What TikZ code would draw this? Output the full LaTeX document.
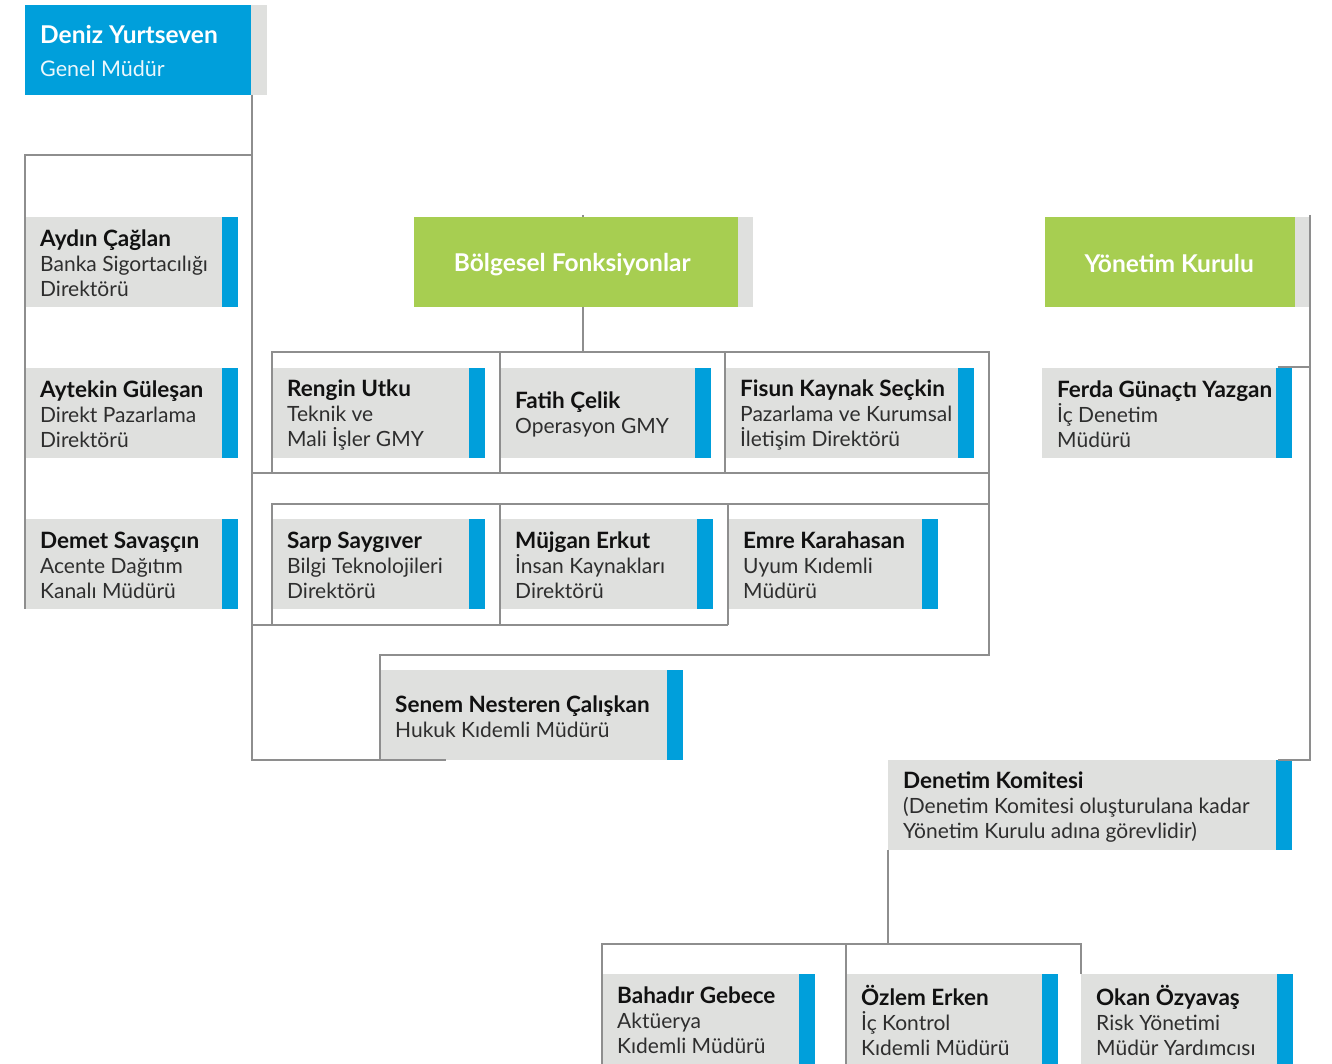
\documentclass[tikz,border=0pt]{standalone}
\usepackage{fontspec}
\setmainfont{Lato}
\definecolor{cblue}{HTML}{009FDB}
\definecolor{cgreen}{HTML}{A7CE51}
\definecolor{cgrey}{HTML}{DFE0DE}
\definecolor{cline}{HTML}{8E8E8E}
\definecolor{cname}{HTML}{111111}
\definecolor{ctitle}{HTML}{2E2E2E}
\tikzset{
  gbox/.style={anchor=north west, fill=cgrey, minimum height=90pt, inner sep=0pt, draw=none},
  ptext/.style={anchor=west, align=left, inner sep=0pt, text=ctitle, font=\fontsize{21}{25}\selectfont},
  conn/.style={draw=cline, line width=1.2pt},
}
\newcommand\pbox[6]{%
  \node[gbox, minimum width=#4] (#1) at (#2,#3) {};
  \fill[cblue] (#1.north east) rectangle ++(15.5,90);
  \node[ptext] (#1-t) at ([xshift=15,yshift=-1.5]#1.west) {\textcolor{cname}{\fontsize{22.5}{25}\selectfont\bfseries #5}\\#6};
}
\begin{document}
\begin{tikzpicture}[x=1pt,y=-1pt]
\useasboundingbox (0,0) rectangle (1332,1064);
% top
\node[anchor=north west, fill=cblue, minimum width=226pt, minimum height=90pt, inner sep=0pt] (deniz) at (25,5) {};
\fill[cgrey] (deniz.north east) rectangle ++(16,90);
\node[anchor=west, align=left, inner sep=0pt, text=white, font=\fontsize{21.5}{33}\selectfont] (deniz-t) at ([xshift=15,yshift=-1]deniz.west) {{\fontsize{24.5}{33}\selectfont\bfseries Deniz Yurtseven}\\\textcolor{white!92!cblue}{Genel Müdür}};
% green boxes
\node[anchor=north west, fill=cgreen, minimum width=324pt, minimum height=90pt, inner sep=0pt] (bolg) at (414,217) {};
\fill[cgrey] (bolg.north east) rectangle ++(15,90);
\node[text=white, font=\fontsize{24.5}{28}\selectfont\bfseries, inner sep=0pt] (bolg-t) at ([xshift=-4,yshift=-2]bolg.center) {Bölgesel Fonksiyonlar};
\node[anchor=north west, fill=cgreen, minimum width=250pt, minimum height=90pt, inner sep=0pt] (yk) at (1045,217) {};
\fill[cgrey] (yk.north east) rectangle ++(15,90);
\node[text=white, font=\fontsize{24.5}{28}\selectfont\bfseries, inner sep=0pt] (yk-t) at ([xshift=-1,yshift=-1]yk.center) {Yönetim Kurulu};
% left column
\pbox{aydin}{25}{217}{197}{Aydın Çağlan}{Banka Sigortacılığı\\Direktörü}
\pbox{aytekin}{25}{368}{197}{Aytekin Güleşan}{Direkt Pazarlama\\Direktörü}
\pbox{demet}{25}{519}{197}{Demet Savaşçın}{Acente Dağıtım\\Kanalı Müdürü}
% row 1
\pbox{rengin}{272}{368}{197}{Rengin Utku}{Teknik ve\\Mali İşler GMY}
\pbox{fatih}{500}{368}{195}{Fatih Çelik}{Operasyon GMY}
\pbox{fisun}{725}{368}{233}{Fisun Kaynak Seçkin}{Pazarlama ve Kurumsal\\İletişim Direktörü}
% row 2
\pbox{sarp}{272}{519}{197}{Sarp Saygıver}{Bilgi Teknolojileri\\Direktörü}
\pbox{mujgan}{500}{519}{197}{Müjgan Erkut}{İnsan Kaynakları\\Direktörü}
\pbox{emre}{728}{519}{194}{Emre Karahasan}{Uyum Kıdemli\\Müdürü}
\pbox{senem}{380}{670}{287}{Senem Nesteren Çalışkan}{Hukuk Kıdemli Müdürü}
% right
\pbox{ferda}{1042}{368}{234}{Ferda Günaçtı Yazgan}{İç Denetim\\Müdürü}
\pbox{denetim}{888}{760}{388}{Denetim Komitesi}{(Denetim Komitesi oluşturulana kadar\\Yönetim Kurulu adına görevlidir)}
\pbox{bahadir}{602}{974}{197}{Bahadır Gebece}{Aktüerya\\Kıdemli Müdürü}
\pbox{ozlem}{846}{974}{196}{Özlem Erken}{İç Kontrol\\Kıdemli Müdürü}
\pbox{okan}{1081}{974}{196}{Okan Özyavaş}{Risk Yönetimi\\Müdür Yardımcısı}
% connector coordinates
\coordinate (m0) at (252,95);
\coordinate (m1) at (252,155);
\coordinate (m2) at (252,473);
\coordinate (m3) at (252,625);
\coordinate (m4) at (252,760);
\coordinate (s1) at (446,760);
\coordinate (b0) at (583,215);
\coordinate (b1) at (583,307);
\coordinate (b2) at (583,352);
\coordinate (f1) at (272,352);
\coordinate (f2) at (989,352);
\coordinate (f3) at (989,655);
\coordinate (f4) at (380,655);
\coordinate (f5) at (380,760);
\coordinate (f6) at (272,473);
\coordinate (f7) at (989,473);
\coordinate (v1a) at (500,352);
\coordinate (v1b) at (500,473);
\coordinate (v2a) at (725,352);
\coordinate (v2b) at (725,473);
\coordinate (g1) at (272,625);
\coordinate (g2) at (272,504);
\coordinate (g3) at (989,504);
\coordinate (g4) at (500,504);
\coordinate (g5) at (500,625);
\coordinate (g6) at (728,504);
\coordinate (g7) at (728,625);
\coordinate (y0) at (1310,215);
\coordinate (y1) at (1310,367);
\coordinate (y2) at (1310,760);
\coordinate (y3) at (1278,367);
\coordinate (y4) at (1278,760);
\coordinate (d1) at (888,850);
\coordinate (d2) at (888,944);
\coordinate (h1) at (602,1064);
\coordinate (h2) at (602,944);
\coordinate (h3) at (1081,944);
\coordinate (h4) at (1081,974);
\coordinate (h5) at (846,944);
\coordinate (h6) at (846,1064);
% connectors
\draw[conn] (m0) -- (m4) -- (s1);
\draw[conn] (m1) -| (demet.south west);
\draw[conn] (b0) -- ++(0,2);
\draw[conn] (b1) -- (b2);
\draw[conn] (f6) -- (f1) -- (f2) -- (f3) -- (f4) -- (f5);
\draw[conn] (m2) -- (f7);
\draw[conn] (v1a) -- (v1b);
\draw[conn] (v2a) -- (v2b);
\draw[conn] (g1) -- (g2) -- (g3);
\draw[conn] (g4) -- (g5);
\draw[conn] (g6) -- (g7);
\draw[conn] (m3) -- (g7);
\draw[conn] (y0) -- (y2) -- (y4);
\draw[conn] (y1) -- (y3);
\draw[conn] (d1) -- (d2);
\draw[conn] (h1) -- (h2) -- (h3) -- (h4);
\draw[conn] (h5) -- (h6);
\end{tikzpicture}
\end{document}
